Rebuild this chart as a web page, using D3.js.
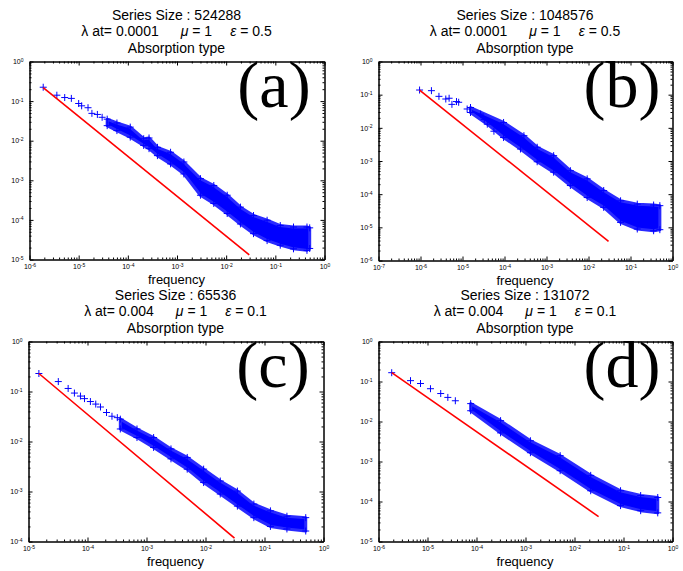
<!DOCTYPE html>
<html>
<head>
<meta charset="utf-8">
<script src="https://cdn.jsdelivr.net/npm/d3@7"></script>
<style>
body { margin: 0; background: #fff; }
text { font-family: "Liberation Sans", Arial, sans-serif; }
</style>
</head>
<body>
<svg id="chart" width="683" height="571"></svg>
<script>
// chart values
const seriesSizes = [524288, 1048576, 65536, 131072]
const lambdas = ["0.0001", "0.0001", "0.004", "0.004"]
const mus = ["1", "1", "1", "1"]
const epsilons = ["0.5", "0.5", "0.1", "0.1"]
const panelLabels = ["(a)", "(b)", "(c)", "(d)"]
const xDecades = [[-6, 0], [-7, 0], [-5, 0], [-6, 0]]
const yDecades = [[-5, 0], [-6, 0], [-4, 0], [-5, 0]]

// (a) single low-frequency points, then upper / lower edge of the dense cloud
const pointsA = [[1.9e-6, 0.224], [3.6e-6, 0.141], [5.2e-6, 0.123], [7.1e-6, 0.117], [1.0e-5, 0.087],
    [1.15e-5, 0.076], [1.55e-5, 0.068], [1.86e-5, 0.049], [2.4e-5, 0.046], [3.0e-5, 0.039]]
const upperA = [[3.8e-5, 0.035], [6.0e-5, 0.028], [1.12e-4, 0.022], [2.1e-4, 0.0112], [2.7e-4, 0.0117],
    [4.0e-4, 0.0068], [7.4e-4, 0.0051], [1.38e-3, 0.0029], [3.0e-3, 0.0011], [5.6e-3, 7.4e-4],
    [0.0105, 4.2e-4], [0.0195, 2.1e-4], [0.036, 1.29e-4], [0.068, 9.8e-5], [0.126, 7.2e-5],
    [0.234, 6.6e-5], [0.44, 6.6e-5], [0.5, 6.3e-5]]
const lowerA = [[3.8e-5, 0.024], [6.0e-5, 0.018], [1.12e-4, 0.0123], [2.1e-4, 0.0076], [2.7e-4, 0.0063],
    [4.0e-4, 0.0042], [7.4e-4, 0.0026], [1.38e-3, 0.00145], [3.0e-3, 4.2e-4], [5.6e-3, 2.6e-4],
    [0.0105, 1.45e-4], [0.0195, 7.9e-5], [0.036, 4.5e-5], [0.068, 3.0e-5], [0.126, 2.3e-5],
    [0.234, 1.86e-5], [0.44, 1.7e-5], [0.5, 1.9e-5]]
const redA = [[1.9e-6, 0.22], [0.0295, 1.3e-5]]

// (b)
const pointsB = [[9.5e-7, 0.138], [1.82e-6, 0.132], [2.75e-6, 0.089], [4.0e-6, 0.074], [4.8e-6, 0.078],
    [5.6e-6, 0.051], [7.2e-6, 0.062], [8.1e-6, 0.059], [1.29e-5, 0.037], [2.7e-5, 0.026],
    [3.3e-5, 0.018], [5.6e-5, 0.0079]]
const upperB = [[1.55e-5, 0.041], [9.5e-5, 0.0145], [2.9e-4, 0.0058], [6.0e-4, 0.0026], [1.48e-3, 0.00145],
    [3.7e-3, 5.1e-4], [9.3e-3, 2.9e-4], [0.023, 1.29e-4], [0.058, 6.3e-5], [0.145, 5.0e-5],
    [0.355, 4.7e-5], [0.5, 4.5e-5]]
const lowerB = [[1.55e-5, 0.029], [3.9e-5, 0.0129], [9.5e-5, 0.0051], [2.4e-4, 0.0023], [6.0e-4, 9.5e-4],
    [1.48e-3, 4.6e-4], [3.7e-3, 1.82e-4], [9.3e-3, 7.9e-5], [0.023, 4.0e-5], [0.058, 1.41e-5],
    [0.145, 8.9e-6], [0.355, 7.9e-6], [0.5, 8.5e-6]]
const redB = [[9.5e-7, 0.138], [0.030, 3.8e-6]]

// (c)
const pointsC = [[1.5e-5, 0.229], [3.2e-5, 0.158], [4.7e-5, 0.115], [6.0e-5, 0.093], [7.6e-5, 0.081],
    [8.9e-5, 0.072], [1.12e-4, 0.063], [1.38e-4, 0.056], [1.66e-4, 0.049], [2.1e-4, 0.038],
    [2.6e-4, 0.032], [3.2e-4, 0.030]]
const upperC = [[3.6e-4, 0.028], [6.9e-4, 0.0178], [1.32e-3, 0.012], [2.6e-3, 0.0071], [4.9e-3, 0.0048],
    [9.3e-3, 0.0028], [0.0178, 0.00162], [0.0347, 0.00102], [0.066, 5.6e-4], [0.126, 4.1e-4],
    [0.24, 3.2e-4], [0.5, 3.0e-4]]
const lowerC = [[3.6e-4, 0.0178], [6.9e-4, 0.012], [1.32e-3, 0.0076], [2.6e-3, 0.0045], [4.9e-3, 0.0028],
    [9.3e-3, 0.00151], [0.0178, 8.9e-4], [0.0347, 5.1e-4], [0.066, 3.0e-4], [0.126, 2.0e-4],
    [0.24, 1.78e-4], [0.5, 1.62e-4]]
const redC = [[1.5e-5, 0.229], [0.031, 1.17e-4]]

// (d)
const pointsD = [[1.86e-6, 0.166], [4.5e-6, 0.105], [7.2e-6, 0.089], [1.15e-5, 0.066], [1.86e-5, 0.050],
    [2.6e-5, 0.040], [3.7e-5, 0.033]]
const upperD = [[7.6e-5, 0.028], [3.1e-4, 0.0105], [1.26e-3, 0.0033], [5.1e-3, 0.0014], [0.0214, 4.5e-4],
    [0.087, 1.86e-4], [0.224, 1.41e-4], [0.5, 1.26e-4]]
const lowerD = [[7.6e-5, 0.0186], [3.1e-4, 0.0052], [1.26e-3, 0.00166], [5.1e-3, 5.9e-4], [0.0214, 1.86e-4],
    [0.087, 7.9e-5], [0.224, 5.9e-5], [0.5, 5.2e-5]]
const redD = [[1.86e-6, 0.166], [0.031, 4.2e-5]]

const allPoints = [pointsA, pointsB, pointsC, pointsD]
const allUpper = [upperA, upperB, upperC, upperD]
const allLower = [lowerA, lowerB, lowerC, lowerD]
const allRed = [redA, redB, redC, redD]

// axes boxes: left, right, top, bottom
const boxes = [[29, 324, 61, 259], [378, 672, 61, 260], [28, 323, 341, 541], [378, 672, 341, 541]]

const svg = d3.select("#chart")
const plus = "M-3.5,0H3.5M0,-3.5V3.5"

function powLabels(g) {
    g.selectAll(".tick text").each(function(d) {
        var t = d3.select(this)
        t.text(null)
        t.append("tspan").text("10")
        t.append("tspan").attr("dy", "-0.45em").attr("font-size", "5px").text(Math.round(Math.log10(d)))
    })
}

function decades(ext) {
    var out = []
    for (var e = ext[0]; e <= ext[1]; e++) out.push(Math.pow(10, e))
    return out
}

function minors(ext) {
    var out = []
    for (var e = ext[0]; e < ext[1]; e++)
        for (var m = 2; m <= 9; m++) out.push(m * Math.pow(10, e))
    return out
}

for (var i = 0; i < 4; i++) {
    var b = boxes[i]
    var x = d3.scaleLog().domain([Math.pow(10, xDecades[i][0]), Math.pow(10, xDecades[i][1])]).range([b[0], b[1]])
    var y = d3.scaleLog().domain([Math.pow(10, yDecades[i][0]), Math.pow(10, yDecades[i][1])]).range([b[3], b[2]])
    var g = svg.append("g").attr("transform", "translate(0.5,0.5)")

    // cloud of points drawn as a filled band
    var band = allUpper[i].concat(allLower[i].slice().reverse())
    var line = d3.line().x(d => x(d[0])).y(d => y(d[1]))
    g.append("path").attr("d", line(band) + "Z")
        .attr("fill", "#0000ff").attr("stroke", "#2a2aff").attr("stroke-width", 3)
        .attr("stroke-linejoin", "round")

    g.selectAll(null).data(allPoints[i].concat(allUpper[i], allLower[i])).enter()
        .append("path").attr("d", plus)
        .attr("transform", d => "translate(" + x(d[0]) + "," + y(d[1]) + ")")
        .attr("stroke", "#0000ff").attr("stroke-width", 1).attr("fill", "none")

    g.append("path").attr("d", line(allRed[i]))
        .attr("stroke", "#ff0000").attr("stroke-width", 1.6).attr("fill", "none")

    // axes with inward ticks on all four sides
    var xa = g.append("g").attr("transform", "translate(0," + b[3] + ")")
        .call(d3.axisBottom(x).tickValues(decades(xDecades[i])).tickSize(-4).tickSizeOuter(0).tickPadding(5))
    xa.call(powLabels)
    g.append("g").attr("transform", "translate(0," + b[3] + ")")
        .call(d3.axisBottom(x).tickValues(minors(xDecades[i])).tickSize(-2).tickSizeOuter(0).tickFormat(""))
    var ya = g.append("g").attr("transform", "translate(" + b[0] + ",0)")
        .call(d3.axisLeft(y).tickValues(decades(yDecades[i])).tickSize(-4).tickSizeOuter(0).tickPadding(6))
    ya.call(powLabels)
    g.append("g").attr("transform", "translate(" + b[0] + ",0)")
        .call(d3.axisLeft(y).tickValues(minors(yDecades[i])).tickSize(-2).tickSizeOuter(0).tickFormat(""))
    g.append("g").attr("transform", "translate(0," + b[2] + ")")
        .call(d3.axisTop(x).tickValues(decades(xDecades[i])).tickSize(-4).tickSizeOuter(0).tickFormat(""))
    g.append("g").attr("transform", "translate(0," + b[2] + ")")
        .call(d3.axisTop(x).tickValues(minors(xDecades[i])).tickSize(-2).tickSizeOuter(0).tickFormat(""))
    g.append("g").attr("transform", "translate(" + b[1] + ",0)")
        .call(d3.axisRight(y).tickValues(decades(yDecades[i])).tickSize(-4).tickSizeOuter(0).tickFormat(""))
    g.append("g").attr("transform", "translate(" + b[1] + ",0)")
        .call(d3.axisRight(y).tickValues(minors(yDecades[i])).tickSize(-2).tickSizeOuter(0).tickFormat(""))
    g.selectAll(".tick text").attr("font-size", "7px").attr("fill", "#000")
        .attr("font-family", "'Liberation Sans', Arial, sans-serif")
    g.selectAll(".domain").attr("stroke", "#000")

    var cx = (b[0] + b[1]) / 2
    svg.append("text").attr("x", cx).attr("y", b[2] - 41.5).attr("text-anchor", "middle")
        .attr("font-size", "14px").text("Series Size : " + seriesSizes[i])
    var t2 = svg.append("text").attr("x", cx).attr("y", b[2] - 25).attr("text-anchor", "middle")
        .attr("font-size", "14px")
    t2.append("tspan").text("\u03bb at= " + lambdas[i])
    t2.append("tspan").attr("dx", 22).attr("font-style", "italic").text("\u03bc")
    t2.append("tspan").text(" = " + mus[i])
    t2.append("tspan").attr("dx", 18).attr("font-style", "italic").text("\u03b5")
    t2.append("tspan").text(" = " + epsilons[i])
    svg.append("text").attr("x", cx).attr("y", b[2] - 8.3).attr("text-anchor", "middle")
        .attr("font-size", "14px").text("Absorption type")

    svg.append("text").attr("x", cx).attr("y", b[3] + 25).attr("text-anchor", "middle")
        .attr("font-size", "13px").text("frequency")

    svg.append("text").attr("x", b[1] - 50).attr("y", b[2] + 46).attr("text-anchor", "middle")
        .attr("font-size", "66px").style("font-family", "'Liberation Serif', 'Times New Roman', serif")
        .text(panelLabels[i])
}
</script>
</body>
</html>
